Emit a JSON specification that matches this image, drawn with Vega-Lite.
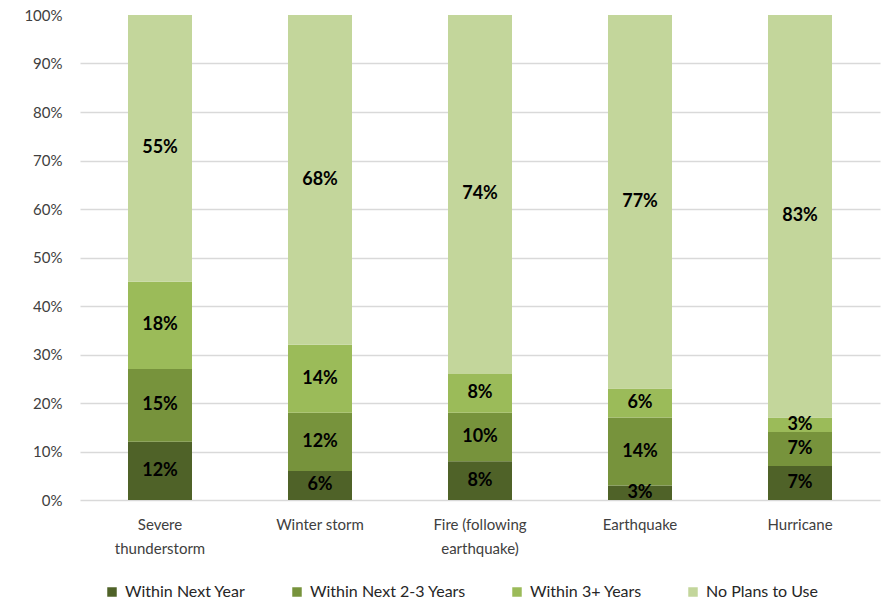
{
  "$schema": "https://vega.github.io/schema/vega-lite/v6.json",
  "width": 800,
  "height": 485,
  "autosize": {"type": "none"},
  "padding": {"left": 80, "top": 15, "right": 1, "bottom": 103},
  "background": "white",
  "config": {
    "font": "Lato",
    "view": {"stroke": null},
    "axis": {"labelFont": "Lato", "labelColor": "#404040", "labelFontSize": 15, "domain": false, "ticks": false},
    "axisY": {
      "title": null,
      "values": [0, 10, 20, 30, 40, 50, 60, 70, 80, 90, 100],
      "labelOverlap": false,
      "labelExpr": "datum.value + '%'",
      "labelPadding": 18,
      "grid": true,
      "gridColor": "#d9d9d9",
      "gridWidth": 1.5,
      "gridOpacity": {"condition": {"test": "datum.value >= 100 || datum.value <= 0", "value": 0}, "value": 1}
    }
  },
  "data": {
    "values": [
      {"hazard": "Severe thunderstorm", "timing": "Within Next Year", "rank": 1, "pct": 12},
      {"hazard": "Severe thunderstorm", "timing": "Within Next 2-3 Years", "rank": 2, "pct": 15},
      {"hazard": "Severe thunderstorm", "timing": "Within 3+ Years", "rank": 3, "pct": 18},
      {"hazard": "Severe thunderstorm", "timing": "No Plans to Use", "rank": 4, "pct": 55},
      {"hazard": "Winter storm", "timing": "Within Next Year", "rank": 1, "pct": 6},
      {"hazard": "Winter storm", "timing": "Within Next 2-3 Years", "rank": 2, "pct": 12},
      {"hazard": "Winter storm", "timing": "Within 3+ Years", "rank": 3, "pct": 14},
      {"hazard": "Winter storm", "timing": "No Plans to Use", "rank": 4, "pct": 68},
      {"hazard": "Fire (following earthquake)", "timing": "Within Next Year", "rank": 1, "pct": 8},
      {"hazard": "Fire (following earthquake)", "timing": "Within Next 2-3 Years", "rank": 2, "pct": 10},
      {"hazard": "Fire (following earthquake)", "timing": "Within 3+ Years", "rank": 3, "pct": 8},
      {"hazard": "Fire (following earthquake)", "timing": "No Plans to Use", "rank": 4, "pct": 74},
      {"hazard": "Earthquake", "timing": "Within Next Year", "rank": 1, "pct": 3},
      {"hazard": "Earthquake", "timing": "Within Next 2-3 Years", "rank": 2, "pct": 14},
      {"hazard": "Earthquake", "timing": "Within 3+ Years", "rank": 3, "pct": 6},
      {"hazard": "Earthquake", "timing": "No Plans to Use", "rank": 4, "pct": 77},
      {"hazard": "Hurricane", "timing": "Within Next Year", "rank": 1, "pct": 7},
      {"hazard": "Hurricane", "timing": "Within Next 2-3 Years", "rank": 2, "pct": 7},
      {"hazard": "Hurricane", "timing": "Within 3+ Years", "rank": 3, "pct": 3},
      {"hazard": "Hurricane", "timing": "No Plans to Use", "rank": 4, "pct": 83}
    ]
  },
  "transform": [
    {"stack": "pct", "groupby": ["hazard"], "sort": [{"field": "rank", "order": "ascending"}], "as": ["lo", "hi"]},
    {"calculate": "(datum.lo + datum.hi) / 2", "as": "mid"},
    {"calculate": "datum.pct + '%'", "as": "pctLabel"}
  ],
  "encoding": {
    "x": {
      "field": "hazard",
      "type": "nominal",
      "sort": ["Severe thunderstorm", "Winter storm", "Fire (following earthquake)", "Earthquake", "Hurricane"],
      "scale": {"paddingInner": 0.6, "paddingOuter": 0.3},
      "axis": {
        "title": null,
        "labelAngle": 0,
        "labelPadding": 17,
        "labelLineHeight": 24,
        "labelBaseline": "top",
        "domain": true,
        "domainColor": "#d9d9d9",
        "domainWidth": 1.5,
        "labelExpr": "datum.value == 'Severe thunderstorm' ? ['Severe', 'thunderstorm'] : datum.value == 'Fire (following earthquake)' ? ['Fire (following', 'earthquake)'] : datum.value"
      }
    }
  },
  "layer": [
    {
      "mark": {"type": "bar"},
      "encoding": {
        "y": {
          "field": "lo",
          "type": "quantitative",
          "title": null,
          "scale": {"domain": [0, 100], "nice": false}
        },
        "y2": {"field": "hi"},
        "color": {
          "field": "timing",
          "type": "nominal",
          "scale": {
            "domain": ["Within Next Year", "Within Next 2-3 Years", "Within 3+ Years", "No Plans to Use"],
            "range": ["#4f6228", "#77933c", "#9bbb59", "#c3d69b"]
          },
          "legend": {
            "title": null,
            "orient": "none",
            "legendX": 24,
            "legendY": 569,
            "direction": "horizontal",
            "columns": 4,
            "symbolType": "square",
            "symbolSize": 90,
            "symbolStrokeWidth": 0,
            "labelFont": "Lato",
            "labelFontSize": 16,
            "labelColor": "#262626",
            "labelOffset": 5,
            "columnPadding": 43
          }
        }
      }
    },
    {
      "mark": {"type": "text", "fontSize": 18, "fontWeight": "bold", "color": "#000000", "font": "Lato"},
      "encoding": {
        "y": {"field": "mid", "type": "quantitative", "title": null},
        "text": {"field": "pctLabel", "type": "nominal"}
      }
    }
  ]
}
